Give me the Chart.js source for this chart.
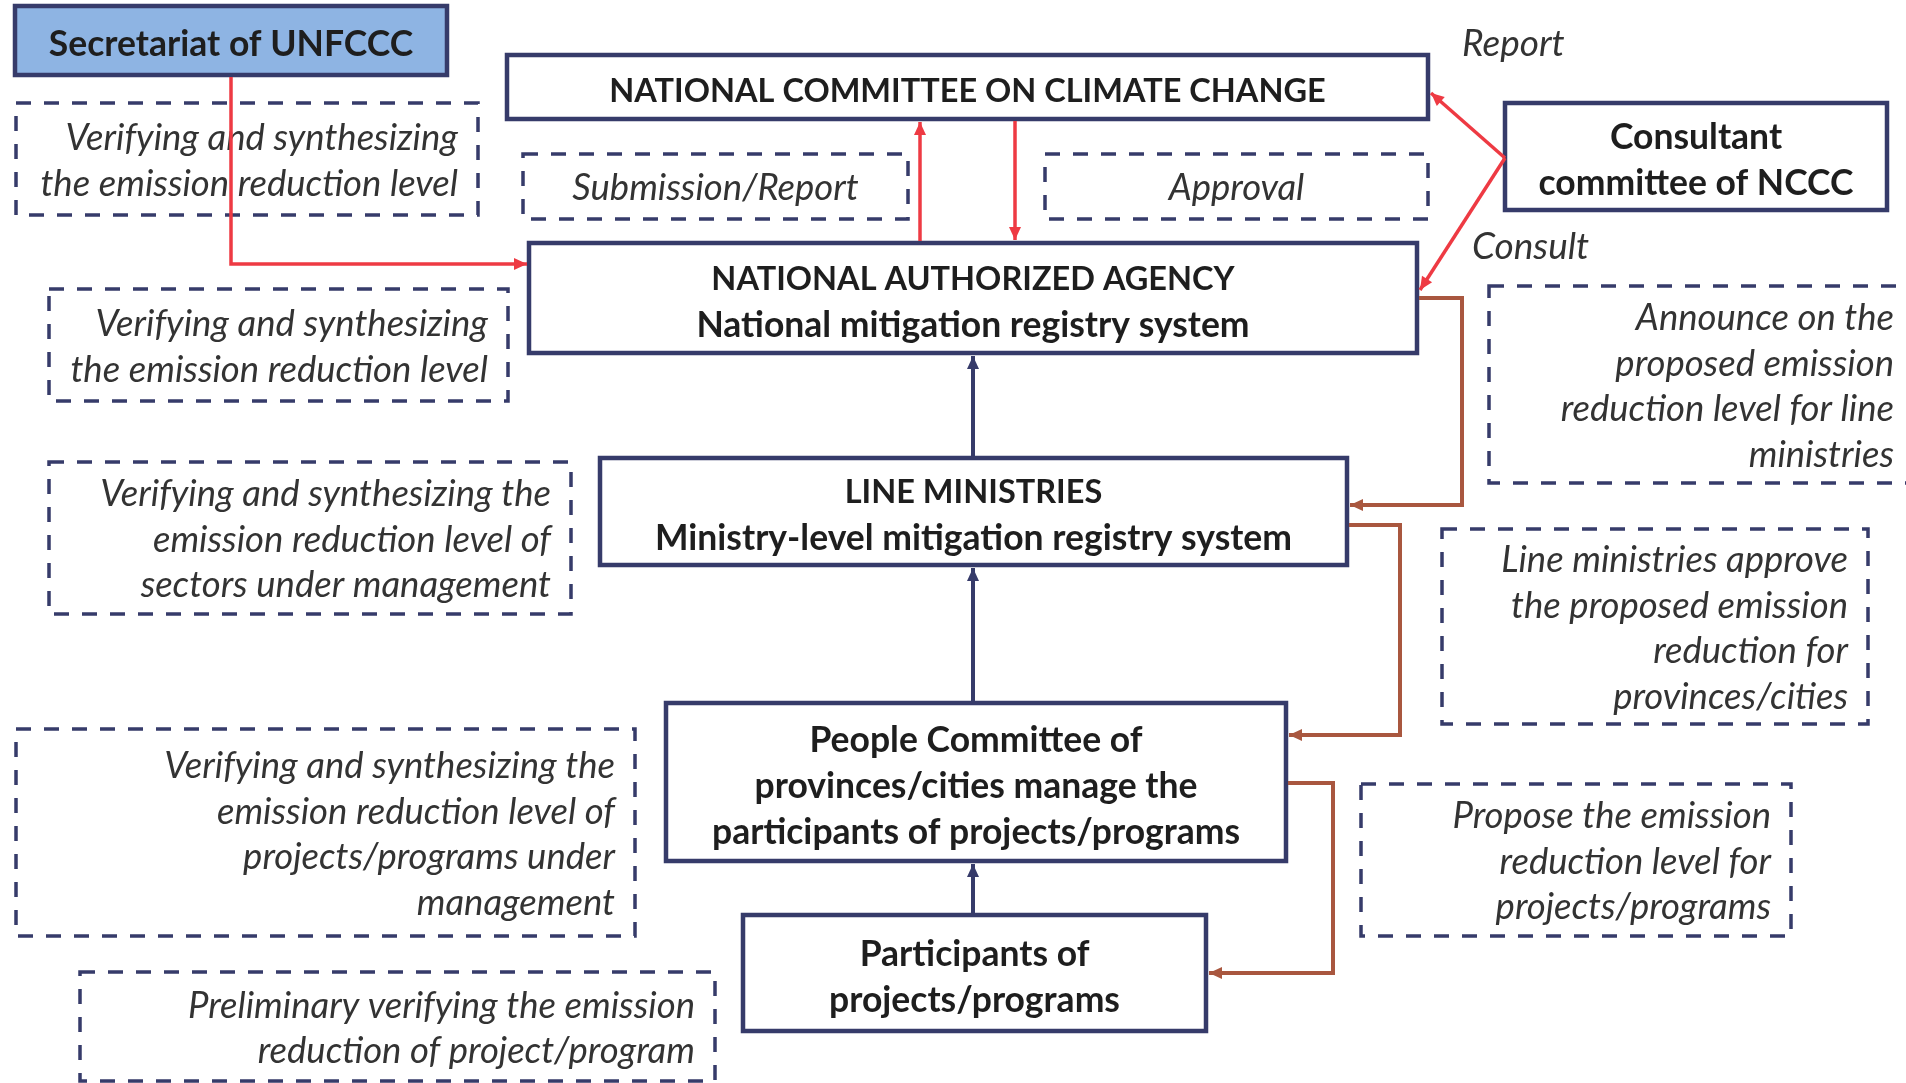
<!DOCTYPE html>
<html><head><meta charset="utf-8">
<script src="https://cdn.jsdelivr.net/npm/chart.js@4.4.1/dist/chart.umd.min.js"></script>
<style>html,body{margin:0;padding:0;background:#fff;overflow:hidden}</style>
</head><body><canvas id="c" width="1906" height="1083"></canvas>
<script>
// ---- Diagram content (chart units: x 0..1906, y 0..1083 top-down) ----
const nodeText = [
  ['Secretariat of UNFCCC'],
  ['NATIONAL COMMITTEE ON CLIMATE CHANGE'],
  ['Consultant', 'committee of NCCC'],
  ['NATIONAL AUTHORIZED AGENCY', 'National mitigation registry system'],
  ['LINE MINISTRIES', 'Ministry-level mitigation registry system'],
  ['People Committee of', 'provinces/cities manage the', 'participants of projects/programs'],
  ['Participants of', 'projects/programs']
];
const nodeLeft   = [15, 507, 1505, 529, 600, 666, 743];
const nodeRight  = [447, 1428, 1887, 1417, 1347, 1286, 1206];
const nodeTop    = [6, 55, 103, 243, 458, 703, 915];
const nodeBottom = [75, 119, 210, 353, 565, 861, 1031];
const nodeFill   = ['#8EB4E3', '#ffffff', '#ffffff', '#ffffff', '#ffffff', '#ffffff', '#ffffff'];

const noteText = [
  ['Verifying and synthesizing', 'the emission reduction level'],
  ['Submission/Report'],
  ['Approval'],
  ['Verifying and synthesizing', 'the emission reduction level'],
  ['Verifying and synthesizing the', 'emission reduction level of', 'sectors under management'],
  ['Announce on the', 'proposed emission', 'reduction level for line', 'ministries'],
  ['Line ministries approve', 'the proposed emission', 'reduction for', 'provinces/cities'],
  ['Verifying and synthesizing the', 'emission reduction level of', 'projects/programs under', 'management'],
  ['Propose the emission', 'reduction level for', 'projects/programs'],
  ['Preliminary verifying the emission', 'reduction of project/program']
];
const noteLeft   = [16, 523, 1045, 49, 49, 1489, 1442, 16, 1361, 80];
const noteRight  = [478, 908, 1428, 508, 571, 1914, 1868, 635, 1791, 715];
const noteTop    = [103, 154, 154, 289, 462, 286, 529, 729, 784, 972];
const noteBottom = [215, 219, 219, 401, 614, 483, 724, 936, 936, 1081];
const noteAlign  = ['right', 'center', 'center', 'right', 'right', 'right', 'right', 'right', 'right', 'right'];

const flowLabels = ['Report', 'Consult'];
const flowLabelX = [1462, 1472];
const flowLabelY = [44, 247];

const linkPaths = [
  [[231, 77], [231, 264], [527, 264]],
  [[920, 241], [920, 122]],
  [[1015, 121], [1015, 240]],
  [[1505, 158], [1431, 93]],
  [[1505, 158], [1420, 290]],
  [[973, 456], [973, 356]],
  [[973, 701], [973, 568]],
  [[973, 913], [973, 864]],
  [[1419, 298], [1462, 298], [1462, 505], [1350, 505]],
  [[1349, 525], [1400, 525], [1400, 735], [1289, 735]],
  [[1288, 783], [1333, 783], [1333, 973], [1209, 973]]
];
const linkColor = ['#EE3A43', '#EE3A43', '#EE3A43', '#EE3A43', '#EE3A43',
  '#363B6A', '#363B6A', '#363B6A', '#A9573F', '#A9573F', '#A9573F'];

const NAVY = '#363B6A';
const FONT = 'Lato, "Open Sans", sans-serif';

const diagramPlugin = {
  id: 'diagram',
  beforeDatasetsDraw(chart) {
    const ctx = chart.ctx, sx = chart.scales.x, sy = chart.scales.y;
    const px = v => sx.getPixelForValue(v), py = v => sy.getPixelForValue(v);
    ctx.save();
    // dashed note boxes
    noteText.forEach((lines, i) => {
      const l = px(noteLeft[i]), r = px(noteRight[i]), t = py(noteTop[i]), b = py(noteBottom[i]);
      ctx.setLineDash([15, 13]);
      ctx.lineWidth = 3.5;
      ctx.strokeStyle = NAVY;
      ctx.strokeRect(l, t, r - l, b - t);
      ctx.setLineDash([]);
      ctx.fillStyle = '#333';
      ctx.font = 'italic 36.5px ' + FONT;
      ctx.textBaseline = 'middle';
      const lh = 45.5;
      const cy = (t + b) / 2 + 2;
      const y0 = cy - (lines.length - 1) * lh / 2;
      lines.forEach((s, k) => {
        let x;
        if (noteAlign[i] === 'right') { ctx.textAlign = 'right'; x = r - 20; }
        else { ctx.textAlign = 'center'; x = (l + r) / 2; }
        ctx.fillText(s, x, y0 + k * lh);
      });
    });
    // solid nodes
    nodeText.forEach((lines, i) => {
      const l = px(nodeLeft[i]), r = px(nodeRight[i]), t = py(nodeTop[i]), b = py(nodeBottom[i]);
      ctx.fillStyle = nodeFill[i];
      ctx.fillRect(l, t, r - l, b - t);
      ctx.lineWidth = 4.5;
      ctx.strokeStyle = NAVY;
      ctx.strokeRect(l, t, r - l, b - t);
      ctx.fillStyle = '#1e1e1e';
      ctx.textAlign = 'center';
      ctx.textBaseline = 'middle';
      const lh = 46;
      const cy = (t + b) / 2 + 4.5;
      const y0 = cy - (lines.length - 1) * lh / 2;
      lines.forEach((s, k) => {
        const caps = s === s.toUpperCase();
        ctx.font = 'bold ' + (caps ? 32.5 : 35.5) + 'px ' + FONT;
        ctx.fillText(s, (l + r) / 2, y0 + k * lh);
      });
    });
    // flow labels
    ctx.fillStyle = '#333';
    ctx.font = 'italic 37px ' + FONT;
    ctx.textAlign = 'left';
    ctx.textBaseline = 'middle';
    flowLabels.forEach((s, i) => ctx.fillText(s, px(flowLabelX[i]), py(flowLabelY[i])));
    ctx.restore();
  },
  afterDatasetsDraw(chart) {
    const ctx = chart.ctx, sx = chart.scales.x, sy = chart.scales.y;
    ctx.save();
    linkPaths.forEach((p, i) => {
      const a = p[p.length - 2], b = p[p.length - 1];
      const x1 = sx.getPixelForValue(a[0]), y1 = sy.getPixelForValue(a[1]);
      const x2 = sx.getPixelForValue(b[0]), y2 = sy.getPixelForValue(b[1]);
      const ang = Math.atan2(y2 - y1, x2 - x1);
      const L = 13, Wd = 6;
      ctx.fillStyle = linkColor[i];
      ctx.beginPath();
      ctx.moveTo(x2, y2);
      ctx.lineTo(x2 - L * Math.cos(ang) + Wd * Math.sin(ang), y2 - L * Math.sin(ang) - Wd * Math.cos(ang));
      ctx.lineTo(x2 - L * Math.cos(ang) - Wd * Math.sin(ang), y2 - L * Math.sin(ang) + Wd * Math.cos(ang));
      ctx.closePath();
      ctx.fill();
    });
    ctx.restore();
  }
};

new Chart(document.getElementById('c'), {
  type: 'scatter',
  data: {
    datasets: linkPaths.map((p, i) => ({
      data: p.map(q => ({ x: q[0], y: q[1] })),
      showLine: true,
      borderColor: linkColor[i],
      borderWidth: i < 5 ? 3.5 : 4,
      pointRadius: 0,
      fill: false,
      tension: 0
    }))
  },
  options: {
    responsive: false,
    animation: false,
    events: [],
    layout: { padding: 0 },
    elements: { line: { borderCapStyle: 'butt', borderJoinStyle: 'miter' } },
    plugins: { legend: { display: false }, tooltip: { enabled: false } },
    scales: {
      x: { type: 'linear', min: 0, max: 1906, display: false },
      y: { type: 'linear', min: 0, max: 1083, reverse: true, display: false }
    }
  },
  plugins: [diagramPlugin]
});
</script>
</body></html>
